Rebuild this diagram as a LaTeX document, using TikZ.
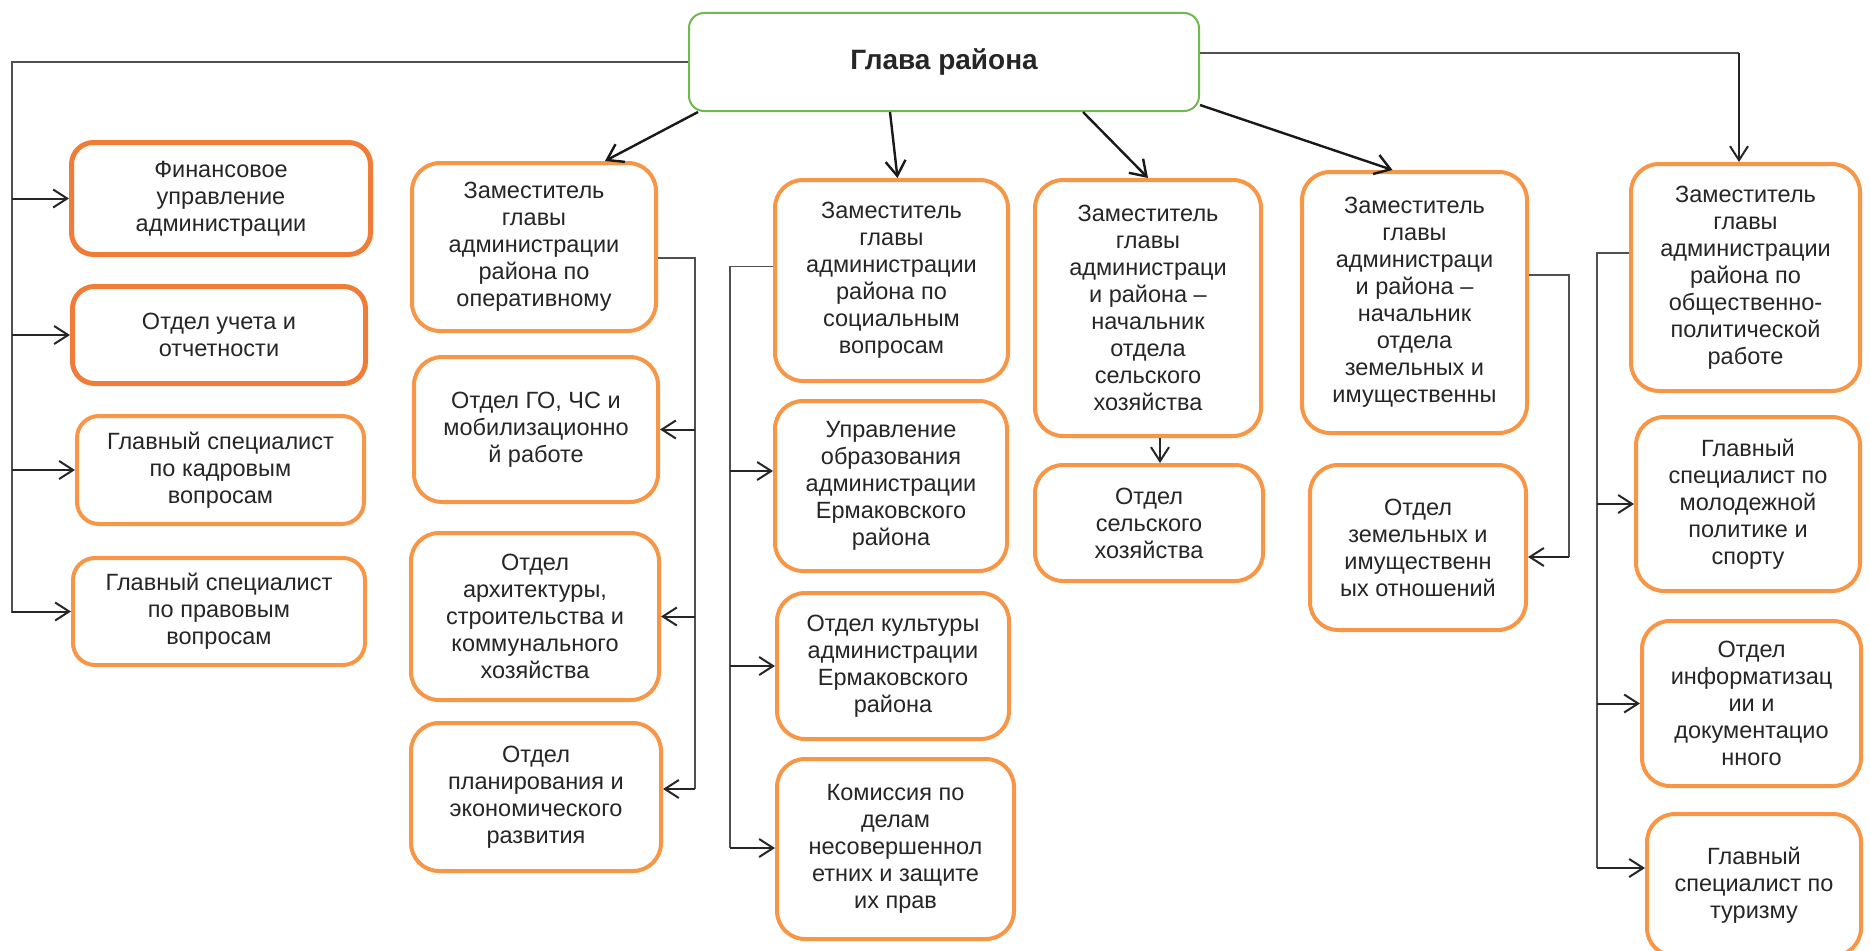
\documentclass[tikz,border=0pt]{standalone}
\usepackage{fontspec}
\setmainfont{Liberation Sans}
\usetikzlibrary{arrows.meta}
\definecolor{boxorange}{RGB}{247,150,70}
\definecolor{darkorange}{RGB}{240,125,55}
\definecolor{headgreen}{RGB}{112,184,80}
\definecolor{textgray}{RGB}{38,38,38}
\definecolor{linegray}{RGB}{80,80,80}

\begin{document}
\begin{tikzpicture}[x=1pt, y=-1pt,
  box/.style={draw=boxorange, line width=4pt, rounded corners=28pt, fill=white, align=center, text=textgray, inner sep=0pt, font=\fontsize{23.5}{27}\selectfont},
  leftbox/.style={box, rounded corners=22pt},
  darkbox/.style={leftbox, draw=darkorange, line width=5pt},
  headbox/.style={draw=headgreen, line width=2pt, rounded corners=15pt, fill=white, text=textgray, font=\fontsize{28}{32}\selectfont\bfseries},
  trunk/.style={draw=linegray, line width=1.4pt},
  arr/.style={draw=textgray, line width=2pt, -{Straight Barb[length=14pt,width=18pt]}},
  diag/.style={draw=black!90, line width=2.4pt, -{Straight Barb[length=15pt,width=20pt]}}]
\useasboundingbox (0,0) rectangle (1870,950);
\coordinate (LeftBottom) at (12,613);
\coordinate (RightCorner) at (1739,53);
\coordinate (Trunk1Bot) at (695,789);
\coordinate (Trunk2A) at (730,471);
\coordinate (Trunk2Bot) at (730,848);
\coordinate (Trunk4Bot) at (1569,557);
\coordinate (Trunk5Bot) at (1597,868);
\node[headbox, minimum width=510pt, minimum height=98pt] (Glava) at (944,62) {Глава района};
\node[darkbox, minimum width=299pt, minimum height=112pt] (Fin) at (221,198.5) {Финансовое\\управление\\администрации};
\node[darkbox, minimum width=293pt, minimum height=97pt] (Uchet) at (219,335) {Отдел учета и\\отчетности};
\node[leftbox, minimum width=287pt, minimum height=108pt] (Kadr) at (220.5,470) {Главный специалист\\по кадровым\\вопросам};
\node[leftbox, minimum width=292pt, minimum height=107pt] (Pravo) at (219,611.5) {Главный специалист\\по правовым\\вопросам};
\node[box, minimum width=244pt, minimum height=168pt] (ZamOper) at (534,247) {Заместитель\\главы\\администрации\\района по\\оперативному};
\node[box, minimum width=244pt, minimum height=145pt] (OtdelGO) at (536,429.5) {Отдел ГО, ЧС и\\мобилизационно\\й работе};
\node[box, minimum width=248pt, minimum height=167pt] (Arch) at (535,616.5) {Отдел\\архитектуры,\\строительства и\\коммунального\\хозяйства};
\node[box, minimum width=250pt, minimum height=148pt] (Plan) at (536,797) {Отдел\\планирования и\\экономического\\развития};
\node[box, minimum width=233pt, minimum height=201pt] (ZamSoc) at (891.5,280.5) {Заместитель\\главы\\администрации\\района по\\социальным\\вопросам};
\node[box, minimum width=232pt, minimum height=170pt] (Obraz) at (891,486) {Управление\\образования\\администрации\\Ермаковского\\района};
\node[box, minimum width=232pt, minimum height=146pt] (Kult) at (893,666) {Отдел культуры\\администрации\\Ермаковского\\района};
\node[box, minimum width=237pt, minimum height=180pt] (Komis) at (895.5,849) {Комиссия по\\делам\\несовершеннол\\етних и защите\\их прав};
\node[box, minimum width=226pt, minimum height=256pt] (ZamSelh) at (1148,308) {Заместитель\\главы\\администраци\\и района –\\начальник\\отдела\\сельского\\хозяйства};
\node[box, minimum width=228pt, minimum height=116pt] (Selh) at (1149,523) {Отдел\\сельского\\хозяйства};
\node[box, minimum width=225pt, minimum height=261pt] (ZamZem) at (1414.5,302.5) {Заместитель\\главы\\администраци\\и района –\\начальник\\отдела\\земельных и\\имущественны};
\node[box, minimum width=216pt, minimum height=165pt] (Zem) at (1418,547.5) {Отдел\\земельных и\\имущественн\\ых отношений};
\node[box, minimum width=229pt, minimum height=227pt] (ZamObsh) at (1745.5,277.5) {Заместитель\\главы\\администрации\\района по\\общественно-\\политической\\работе};
\node[box, minimum width=224pt, minimum height=174pt] (Molod) at (1748,504) {Главный\\специалист по\\молодежной\\политике и\\спорту};
\node[box, minimum width=219pt, minimum height=165pt] (Inform) at (1751.5,703.5) {Отдел\\информатизац\\ии и\\документацио\\нного};
\node[box, minimum width=214pt, minimum height=142pt] (Turizm) at (1754,885) {Главный\\специалист по\\туризму};
\draw[trunk] (Glava.west) -| (LeftBottom);
\draw[arr] (LeftBottom |- Fin.west) -- (Fin.west);
\draw[arr] (LeftBottom |- Uchet.west) -- (Uchet.west);
\draw[arr] (LeftBottom |- Kadr.west) -- (Kadr.west);
\draw[arr] (LeftBottom |- Pravo.west) -- (Pravo.west);
\draw[diag] ([xshift=10pt]Glava.south west) -- ([xshift=-53pt]ZamOper.north east);
\draw[diag] ([xshift=-54pt]Glava.south) -- ([xshift=6pt]ZamSoc.north);
\draw[diag] ([xshift=139pt]Glava.south) -- (ZamSelh.north);
\draw[diag] ([yshift=7pt]Glava.south east) -- ([xshift=-22pt]ZamZem.north);
\draw[trunk] ([yshift=9pt]Glava.east) -- (RightCorner);
\draw[arr] (RightCorner) -- (RightCorner |- ZamObsh.north);
\draw[trunk] ([yshift=-11pt]ZamOper.east) -| (Trunk1Bot);
\draw[arr] (Trunk1Bot |- OtdelGO.east) -- (OtdelGO.east);
\draw[arr] (Trunk1Bot |- Arch.east) -- (Arch.east);
\draw[arr] (Trunk1Bot) -- (Trunk1Bot -| Plan.east);
\draw[trunk] ([yshift=14pt]ZamSoc.west) -| (Trunk2Bot);
\draw[arr] (Trunk2A) -- (Trunk2A -| Obraz.west);
\draw[arr] (Trunk2Bot |- Kult.west) -- (Kult.west);
\draw[arr] (Trunk2Bot) -- (Trunk2Bot -| Komis.west);
\draw[arr] ([xshift=12pt]ZamSelh.south) -- ([xshift=12pt]ZamSelh.south |- Selh.north);
\draw[trunk] ([yshift=27.5pt]ZamZem.east) -| (Trunk4Bot);
\draw[arr] (Trunk4Bot) -- (Trunk4Bot -| Zem.east);
\draw[trunk] ([yshift=24.5pt]ZamObsh.west) -| (Trunk5Bot);
\draw[arr] (Trunk5Bot |- Molod.west) -- (Molod.west);
\draw[arr] (Trunk5Bot |- Inform.west) -- (Inform.west);
\draw[arr] (Trunk5Bot) -- (Trunk5Bot -| Turizm.west);
\end{tikzpicture}
\end{document}
